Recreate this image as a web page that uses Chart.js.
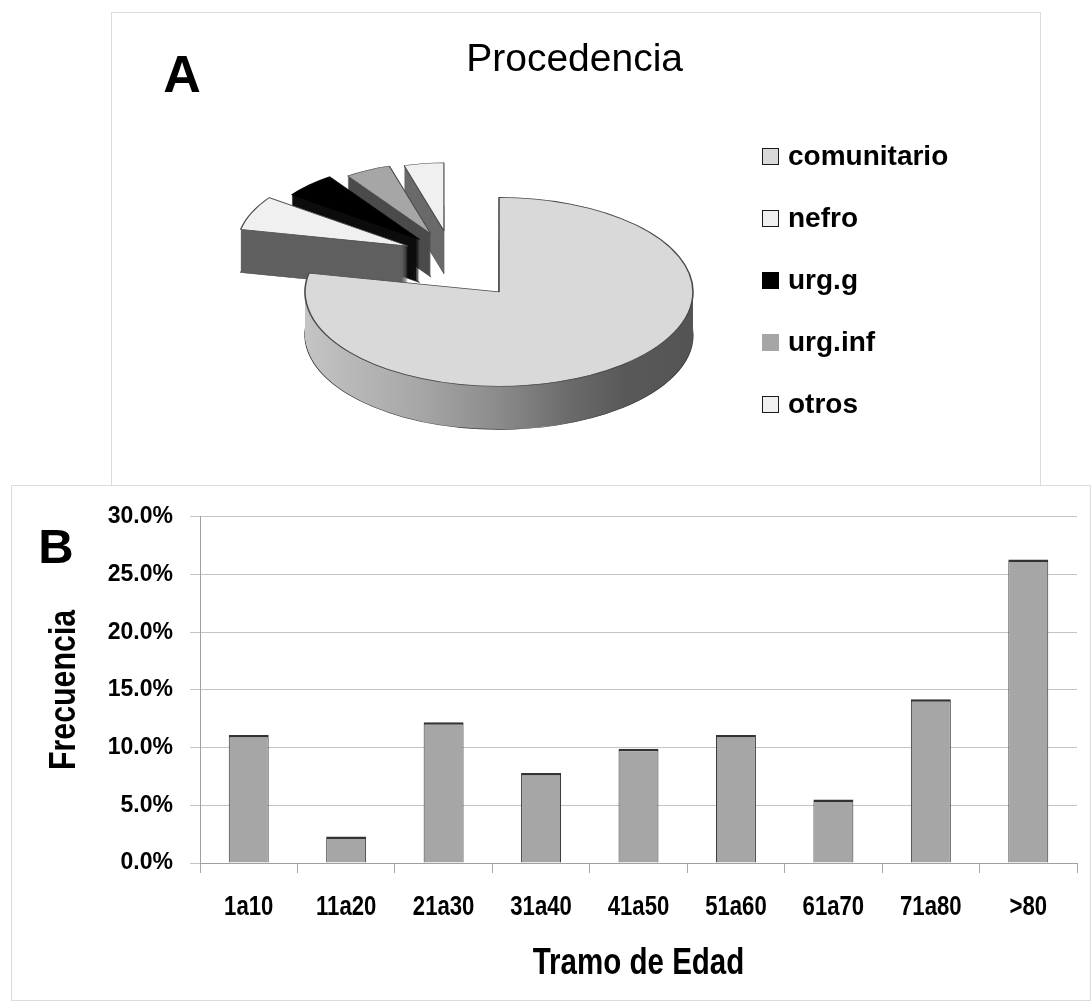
<!DOCTYPE html>
<html lang="es">
<head>
<meta charset="utf-8">
<title>Procedencia y Tramo de Edad</title>
<script src="https://cdn.jsdelivr.net/npm/chart.js@4.4.1/dist/chart.umd.min.js"></script>
<style>
  html, body { margin: 0; padding: 0; background: #fff; }
  body { width: 1092px; height: 1008px; position: relative; overflow: hidden; font-family: 'Liberation Sans', Arial, sans-serif; }
  .frame { position: absolute; border: 1px solid #dcdcdc; box-sizing: content-box; }
  canvas { position: absolute; }
  .tag { position: absolute; font-weight: bold; color: #000; line-height: 1; text-align: center; width: 80px; }
  .key { position: absolute; left: 762px; width: 17px; height: 17px; box-sizing: border-box; }
  .key-text { position: absolute; left: 788px; font-weight: bold; font-size: 28px; line-height: 28px; color: #000; white-space: nowrap; }
</style>
</head>
<body>
<div class="frame" style="left:111px;top:12px;width:928px;height:472px;"></div>
<div class="frame" style="left:11px;top:485px;width:1078px;height:514px;background:#fff;"></div>
<canvas id="pie" width="927" height="471" style="left:112px;top:13px;"></canvas>
<canvas id="bars" width="1077" height="513" style="left:12px;top:486px;"></canvas>
<div class="tag" style="left:142px;top:48px;font-size:52px;">A</div>
<div class="tag" style="left:16px;top:522px;font-size:49px;">B</div>
<div id="legend"></div>
<script>
// Panel A: where the cases came from (share of total, %)
const originLabels = ['comunitario', 'nefro', 'urg.g', 'urg.inf', 'otros'];
const originShare  = [78.2, 6.7, 5.4, 5.1, 4.6];

// Panel B: age bands and their frequency (%)
const ageBands = ['1a10', '11a20', '21a30', '31a40', '41a50', '51a60', '61a70', '71a80', '>80'];
const ageShare = [11.1, 2.3, 12.2, 7.8, 9.9, 11.1, 5.5, 14.2, 26.3];

// Styling for the pie faces
const topColors  = ['#d9d9d9', '#f0f0f0', '#000000', '#a6a6a6', '#f0f0f0'];
const sideColors = ['shade', '#606060', '#0d0d0d', '#4b4b4b', '#6a6a6a'];
const keyBorders = ['#1a1a1a', '#1a1a1a', '#000000', '#a6a6a6', '#1a1a1a'];
const shadeStops = [[0, '#c4c4c4'], [0.3, '#a6a6a6'], [0.5, '#8b8b8b'], [0.68, '#6b6b6b'], [0.82, '#595959'], [1, '#545454']];

// "Narrow" text is drawn with Liberation Sans squeezed horizontally
const narrow = "'Liberation Sans Narrow', 'Liberation Sans', Arial, sans-serif";
const narrowFactor = 0.82;
Chart.defaults.font.family = "'Liberation Sans', Arial, sans-serif";
Chart.defaults.color = '#000';

function condenseNarrowText(canvas, factor) {
  const ctx = canvas.getContext('2d');
  const fill = ctx.fillText;
  ctx.fillText = function (text, x, y, maxWidth) {
    if (!String(this.font).includes('Narrow')) {
      return maxWidth === undefined ? fill.call(this, text, x, y) : fill.call(this, text, x, y, maxWidth);
    }
    this.save();
    this.translate(x, y);
    this.scale(factor, 1);
    if (maxWidth === undefined) fill.call(this, text, 0, 0);
    else fill.call(this, text, 0, 0, maxWidth / factor);
    this.restore();
  };
}

// Extruded, tilted pie: draws every arc element of the dataset as a
// stack of layers (the wall) and then its top face, back to front.
// Exploded slices fan out around a common aim angle.
const pie3d = {
  id: 'pie3d',
  beforeDatasetDraw(chart, args, opts) {
    const ctx = chart.ctx;
    const arcs = args.meta.data;
    const aim = opts.aim * Math.PI / 180 - Math.PI / 2;
    for (const i of opts.order) {
      const el = arcs[i];
      const base = el.options;
      const mid = (el.startAngle + el.endAngle) / 2;
      const dir = aim + (mid - aim) * opts.spread;
      const ex = Math.cos(dir) * opts.explode[i];
      const ey = Math.sin(dir) * opts.explode[i];
      const s = opts.shrink[i];
      let wall = opts.sides[i];
      if (wall === 'shade') {
        const r = el.outerRadius;
        wall = ctx.createLinearGradient(el.x - r, 0, el.x + r, 0);
        opts.stops.forEach(([p, c]) => wall.addColorStop(p, c));
      }
      const paint = (dy, fill, stroke, width) => {
        ctx.save();
        ctx.translate(el.x, el.y + dy);
        ctx.scale(1, opts.tilt);
        ctx.translate(ex, ey);
        ctx.scale(s, s);
        ctx.translate(-el.x, -el.y);
        el.options = Object.assign({}, base, { backgroundColor: fill, borderColor: stroke, borderWidth: width, offset: 0 });
        el.draw(ctx);
        el.options = base;
        ctx.restore();
      };
      for (let d = opts.depth; d >= 1; d--) {
        paint(d, wall, opts.edge, d === opts.depth ? 1.2 : 0);
      }
      paint(0, base.backgroundColor, base.borderColor, base.borderWidth);
    }
    return false;
  }
};

new Chart(document.getElementById('pie'), {
  type: 'pie',
  data: {
    labels: originLabels,
    datasets: [{
      data: originShare,
      backgroundColor: topColors,
      borderColor: ['#4a4a4a', '#4a4a4a', '#000000', '#4a4a4a', '#4a4a4a'],
      borderWidth: 1.6,
      radius: 194
    }]
  },
  options: {
    responsive: false,
    animation: false,
    events: [],
    layout: { padding: { left: 203, right: 356, top: 0, bottom: 0 } },
    plugins: {
      legend: { display: false },
      tooltip: { enabled: false },
      title: {
        display: true,
        text: 'Procedencia',
        align: 'end',
        color: '#000',
        font: { size: 39, weight: 'normal' },
        padding: { top: 24, bottom: 16 }
      },
      pie3d: {
        order: [4, 3, 2, 1, 0],
        aim: 328,
        spread: 0.35,
        explode: [0, 131, 134, 137, 137],
        shrink: [1, 0.88, 0.81, 0.75, 0.72],
        tilt: 0.487,
        depth: 43,
        sides: sideColors,
        stops: shadeStops,
        edge: '#3a3a3a'
      }
    }
  },
  plugins: [pie3d]
});

// Legend for panel A
const legend = document.getElementById('legend');
originLabels.forEach((name, i) => {
  const cy = 156 + i * 62;
  const key = document.createElement('div');
  key.className = 'key';
  key.style.top = (cy - 8.5) + 'px';
  key.style.background = topColors[i];
  key.style.border = '1.5px solid ' + keyBorders[i];
  const txt = document.createElement('div');
  txt.className = 'key-text';
  txt.style.top = (cy - 14.4) + 'px';
  txt.textContent = name;
  legend.appendChild(key);
  legend.appendChild(txt);
});

const barCanvas = document.getElementById('bars');
condenseNarrowText(barCanvas, narrowFactor);

new Chart(barCanvas, {
  type: 'bar',
  data: {
    labels: ageBands,
    datasets: [{
      data: ageShare,
      backgroundColor: '#a6a6a6',
      borderColor: '#333333',
      borderWidth: { top: 2.5, left: 1, right: 1, bottom: 0 },
      borderSkipped: 'start',
      barPercentage: 0.41,
      categoryPercentage: 1
    }]
  },
  options: {
    responsive: false,
    animation: false,
    events: [],
    layout: { padding: { left: 0, top: 28, right: 12, bottom: 0 } },
    plugins: { legend: { display: false }, tooltip: { enabled: false } },
    scales: {
      x: {
        grid: { offset: true, drawOnChartArea: false, drawTicks: true, tickLength: 10, color: '#a8a8a8' },
        border: { color: '#a0a0a0', width: 1 },
        ticks: { padding: 18, color: '#000', maxRotation: 0, autoSkip: false, font: { family: narrow, size: 27, weight: 'bold' } },
        title: {
          display: true,
          text: 'Tramo de Edad',
          color: '#000',
          font: { family: narrow, size: 36, weight: 'bold' },
          padding: { top: 0, bottom: 13 }
        },
        afterFit(scale) { scale.height = 136; }
      },
      y: {
        min: 0,
        max: 30,
        grid: { color: '#c4c4c4', tickLength: 10 },
        border: { color: '#a0a0a0', width: 1 },
        ticks: {
          stepSize: 5,
          padding: 17,
          color: '#000',
          font: { size: 23, weight: 'bold' },
          callback: (v) => v.toFixed(1) + '%'
        },
        title: {
          display: true,
          text: 'Frecuencia',
          color: '#000',
          font: { family: narrow, size: 37, weight: 'bold' },
          padding: { top: 31, bottom: 0 }
        },
        afterFit(scale) { scale.width = 188; }
      }
    }
  }
});
</script>
</body>
</html>
